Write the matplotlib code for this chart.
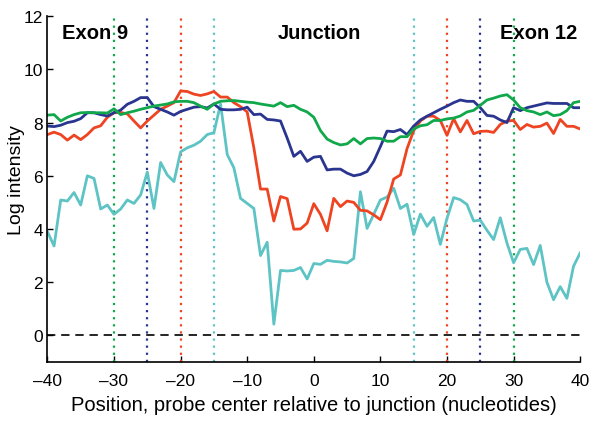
import matplotlib
matplotlib.use("Agg")
import matplotlib.pyplot as plt

plt.rcParams['font.family'] = ['Liberation Sans', 'DejaVu Sans']

# probe positions relative to junction
positions = list(range(-40, 41))

green = [8.28, 8.3, 8.06, 8.2, 8.3, 8.37, 8.38, 8.37, 8.37, 8.36,
         8.52, 8.3, 8.37, 8.43, 8.5, 8.56, 8.62, 8.66, 8.7, 8.78,
         8.8, 8.8, 8.75, 8.62, 8.5, 8.7, 8.8, 8.82, 8.83, 8.8,
         8.77, 8.75, 8.7, 8.66, 8.62, 8.75, 8.6, 8.65, 8.5, 8.4,
         8.2, 7.7, 7.38, 7.25, 7.16, 7.2, 7.4, 7.2, 7.4, 7.42,
         7.4, 7.3, 7.3, 7.47, 7.47, 7.76, 7.88, 7.92, 8.08, 8.08,
         8.14, 8.17, 8.25, 8.4, 8.46, 8.65, 8.85, 8.92, 9.0, 9.05,
         8.85, 8.56, 8.45, 8.4, 8.3, 8.4, 8.26, 8.3, 8.45, 8.75,
         8.8]

blue = [7.87, 7.85, 7.9, 8.0, 8.05, 8.15, 8.37, 8.37, 8.3, 8.25,
        8.37, 8.47, 8.69, 8.8, 8.94, 8.94, 8.6, 8.5, 8.4, 8.28,
        8.42, 8.5, 8.58, 8.6, 8.55, 8.7, 8.5, 8.48, 8.48, 8.5,
        8.58, 8.3, 8.32, 8.12, 8.1, 8.06, 7.42, 6.73, 6.92, 6.54,
        6.7, 6.73, 6.22, 6.25, 6.25, 6.1, 6.0, 6.05, 6.16, 6.54,
        7.1, 7.68, 7.66, 7.74, 7.55, 7.87, 8.1, 8.24, 8.37, 8.5,
        8.62, 8.75, 8.85, 8.8, 8.8, 8.56, 8.27, 8.24, 8.1, 8.0,
        8.56, 8.45, 8.56, 8.62, 8.68, 8.74, 8.72, 8.72, 8.72, 8.56,
        8.56]

red = [7.55, 7.64, 7.55, 7.34, 7.53, 7.36, 7.55, 7.8, 7.88, 8.2,
       8.37, 8.38, 8.33, 8.06, 7.8, 8.06, 8.28, 8.5, 8.62, 8.75,
       9.19, 9.17, 9.07, 9.02, 9.08, 9.17, 8.96, 8.96, 8.75, 8.6,
       8.4, 7.05, 5.5, 5.5, 4.3, 5.22, 5.14, 3.99, 4.0, 4.22,
       4.95, 4.55, 3.93, 5.15, 4.84, 5.05, 5.0, 4.7, 4.68, 4.53,
       4.35, 5.01, 5.88, 6.03, 7.02, 7.7, 8.06, 8.24, 8.24, 8.08,
       7.52, 8.15, 7.65, 8.08, 7.58, 7.67, 7.68, 7.63, 7.93, 8.06,
       8.08, 7.74, 7.93, 7.83, 7.86, 7.98, 7.59, 8.12, 7.86, 7.86,
       7.76]

cyan = [3.9, 3.36, 5.09, 5.05, 5.37, 4.9, 6.0, 5.9, 4.75, 4.9,
        4.55, 4.75, 5.09, 4.96, 5.28, 6.14, 4.77, 6.5, 6.03, 5.78,
        6.9, 7.05, 7.15, 7.3, 7.55, 7.62, 8.7, 6.8, 6.3, 5.15,
        4.96, 4.77, 3.0, 3.5, 0.42, 2.44, 2.42, 2.44, 2.55, 2.12,
        2.7, 2.67, 2.82, 2.78, 2.76, 2.72, 2.89, 5.4, 4.02, 4.55,
        5.09, 5.2, 5.53, 4.77, 4.93, 3.79, 4.56, 4.1, 4.43, 3.42,
        4.4, 5.18, 5.1, 4.92, 4.3, 4.33, 3.95, 3.6, 4.42, 3.47,
        2.73, 3.23, 3.27, 2.66, 3.38, 2.0, 1.34, 1.83, 1.39, 2.6,
        3.1]

# boundary markers (dotted verticals)
marker_pos = [-30, -25, -20, -15, 15, 20, 25, 30]
marker_keys = ['green', 'blue', 'red', 'cyan', 'cyan', 'red', 'blue', 'green']

colors = {
    'green': '#10a84a',
    'blue': '#2a3590',
    'red': '#ee4422',
    'cyan': '#5ec3c4',
}

fig = plt.figure(figsize=(6.0, 4.31), dpi=100)
ax = fig.add_axes([0.079, 0.158, 0.888, 0.802])

for xp, key in zip(marker_pos, marker_keys):
    ax.axvline(xp, color=colors[key], linestyle=(0, (1, 2.2)), linewidth=1.6)

ax.axhline(0, color='black', linestyle=(0, (5, 3.5)), linewidth=1.2)

ax.plot(positions, cyan, color=colors['cyan'], linewidth=2)
ax.plot(positions, red, color=colors['red'], linewidth=2)
ax.plot(positions, blue, color=colors['blue'], linewidth=2)
ax.plot(positions, green, color=colors['green'], linewidth=2)

ax.set_xlim(-40, 40)
ax.set_ylim(-1, 12)
ax.set_xticks(range(-40, 41, 10))
ax.set_yticks(range(0, 13, 2))
ax.set_xticklabels([str(v).replace('-', '\u2013') for v in range(-40, 41, 10)])
ax.tick_params(direction='in', labelsize=12.5, length=4, width=1)
ax.tick_params(axis='x', pad=8)
ax.tick_params(axis='y', pad=3)

ax.spines['top'].set_visible(False)
ax.spines['right'].set_visible(False)
ax.spines['left'].set_linewidth(1.2)
ax.spines['bottom'].set_linewidth(1.2)

ax.set_xlabel('Position, probe center relative to junction (nucleotides)', fontsize=14.5, labelpad=5)
ax.set_ylabel('Log intensity', fontsize=14)
ax.yaxis.set_label_coords(-0.042, 0.53)

ax.text(-37.8, 11.4, 'Exon 9', fontsize=14.5, fontweight='bold', ha='left', va='center')
ax.text(0.8, 11.4, 'Junction', fontsize=14.5, fontweight='bold', ha='center', va='center')
ax.text(33.8, 11.4, 'Exon 12', fontsize=14.5, fontweight='bold', ha='center', va='center')

fig.savefig('out.png', dpi=100)
